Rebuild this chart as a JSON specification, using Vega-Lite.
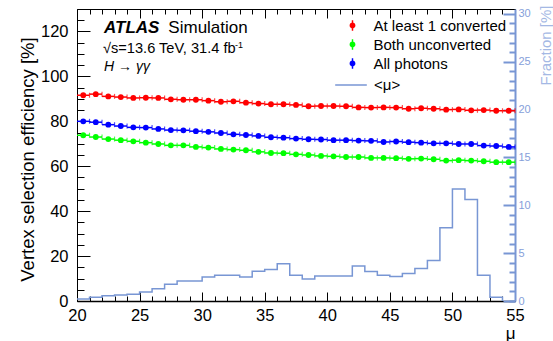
{
  "$schema": "https://vega.github.io/schema/vega-lite/v6.json",
  "width": 438,
  "height": 292,
  "autosize": {"type": "none"},
  "padding": {"left": 77, "top": 9, "right": 38, "bottom": 40},
  "background": "white",
  "config": {
    "font": "Liberation Sans",
    "view": {"stroke": "black", "strokeWidth": 1},
    "axis": {"labelFont": "Liberation Sans", "labelFontSize": 16.5, "labelColor": "black", "tickColor": "black", "domainColor": "black", "grid": false, "titleFont": "Liberation Sans", "titleFontWeight": "normal", "titleColor": "black", "labelFlush": false, "labelOverlap": false, "tickWidth": 1},
    "legend": {"labelFont": "Liberation Sans", "labelFontSize": 15, "labelColor": "black"}
  },
  "datasets": {
    "eff": [
      {"lo":20,"hi":21,"mu":20.5,"sel":"At least 1 converted","eff":91.6},
      {"lo":21,"hi":22,"mu":21.5,"sel":"At least 1 converted","eff":92.1},
      {"lo":22,"hi":23,"mu":22.5,"sel":"At least 1 converted","eff":91.1},
      {"lo":23,"hi":24,"mu":23.5,"sel":"At least 1 converted","eff":90.8},
      {"lo":24,"hi":25,"mu":24.5,"sel":"At least 1 converted","eff":90.4},
      {"lo":25,"hi":26,"mu":25.5,"sel":"At least 1 converted","eff":90.5},
      {"lo":26,"hi":27,"mu":26.5,"sel":"At least 1 converted","eff":90.4},
      {"lo":27,"hi":28,"mu":27.5,"sel":"At least 1 converted","eff":89.8},
      {"lo":28,"hi":29,"mu":28.5,"sel":"At least 1 converted","eff":89.6},
      {"lo":29,"hi":30,"mu":29.5,"sel":"At least 1 converted","eff":89.6},
      {"lo":30,"hi":31,"mu":30.5,"sel":"At least 1 converted","eff":89.2},
      {"lo":31,"hi":32,"mu":31.5,"sel":"At least 1 converted","eff":88.7},
      {"lo":32,"hi":33,"mu":32.5,"sel":"At least 1 converted","eff":88.9},
      {"lo":33,"hi":34,"mu":33.5,"sel":"At least 1 converted","eff":88.3},
      {"lo":34,"hi":35,"mu":34.5,"sel":"At least 1 converted","eff":87.9},
      {"lo":35,"hi":36,"mu":35.5,"sel":"At least 1 converted","eff":87.6},
      {"lo":36,"hi":37,"mu":36.5,"sel":"At least 1 converted","eff":87.6},
      {"lo":37,"hi":38,"mu":37.5,"sel":"At least 1 converted","eff":87.3},
      {"lo":38,"hi":39,"mu":38.5,"sel":"At least 1 converted","eff":86.7},
      {"lo":39,"hi":40,"mu":39.5,"sel":"At least 1 converted","eff":86.8},
      {"lo":40,"hi":41,"mu":40.5,"sel":"At least 1 converted","eff":86.8},
      {"lo":41,"hi":42,"mu":41.5,"sel":"At least 1 converted","eff":86.7},
      {"lo":42,"hi":43,"mu":42.5,"sel":"At least 1 converted","eff":86.2},
      {"lo":43,"hi":44,"mu":43.5,"sel":"At least 1 converted","eff":86.1},
      {"lo":44,"hi":45,"mu":44.5,"sel":"At least 1 converted","eff":86.2},
      {"lo":45,"hi":46,"mu":45.5,"sel":"At least 1 converted","eff":86.1},
      {"lo":46,"hi":47,"mu":46.5,"sel":"At least 1 converted","eff":85.6},
      {"lo":47,"hi":48,"mu":47.5,"sel":"At least 1 converted","eff":85.8},
      {"lo":48,"hi":49,"mu":48.5,"sel":"At least 1 converted","eff":85.6},
      {"lo":49,"hi":50,"mu":49.5,"sel":"At least 1 converted","eff":85.2},
      {"lo":50,"hi":51,"mu":50.5,"sel":"At least 1 converted","eff":85.3},
      {"lo":51,"hi":52,"mu":51.5,"sel":"At least 1 converted","eff":84.9},
      {"lo":52,"hi":53,"mu":52.5,"sel":"At least 1 converted","eff":85.0},
      {"lo":53,"hi":54,"mu":53.5,"sel":"At least 1 converted","eff":84.7},
      {"lo":54,"hi":55,"mu":54.5,"sel":"At least 1 converted","eff":84.7},
      {"lo":20,"hi":21,"mu":20.5,"sel":"Both unconverted","eff":73.8},
      {"lo":21,"hi":22,"mu":21.5,"sel":"Both unconverted","eff":73.0},
      {"lo":22,"hi":23,"mu":22.5,"sel":"Both unconverted","eff":72.1},
      {"lo":23,"hi":24,"mu":23.5,"sel":"Both unconverted","eff":71.6},
      {"lo":24,"hi":25,"mu":24.5,"sel":"Both unconverted","eff":71.1},
      {"lo":25,"hi":26,"mu":25.5,"sel":"Both unconverted","eff":70.5},
      {"lo":26,"hi":27,"mu":26.5,"sel":"Both unconverted","eff":69.9},
      {"lo":27,"hi":28,"mu":27.5,"sel":"Both unconverted","eff":69.3},
      {"lo":28,"hi":29,"mu":28.5,"sel":"Both unconverted","eff":69.3},
      {"lo":29,"hi":30,"mu":29.5,"sel":"Both unconverted","eff":68.6},
      {"lo":30,"hi":31,"mu":30.5,"sel":"Both unconverted","eff":68.3},
      {"lo":31,"hi":32,"mu":31.5,"sel":"Both unconverted","eff":67.7},
      {"lo":32,"hi":33,"mu":32.5,"sel":"Both unconverted","eff":67.4},
      {"lo":33,"hi":34,"mu":33.5,"sel":"Both unconverted","eff":67.1},
      {"lo":34,"hi":35,"mu":34.5,"sel":"Both unconverted","eff":66.4},
      {"lo":35,"hi":36,"mu":35.5,"sel":"Both unconverted","eff":65.9},
      {"lo":36,"hi":37,"mu":36.5,"sel":"Both unconverted","eff":65.8},
      {"lo":37,"hi":38,"mu":37.5,"sel":"Both unconverted","eff":65.3},
      {"lo":38,"hi":39,"mu":38.5,"sel":"Both unconverted","eff":65.0},
      {"lo":39,"hi":40,"mu":39.5,"sel":"Both unconverted","eff":64.6},
      {"lo":40,"hi":41,"mu":40.5,"sel":"Both unconverted","eff":64.4},
      {"lo":41,"hi":42,"mu":41.5,"sel":"Both unconverted","eff":64.1},
      {"lo":42,"hi":43,"mu":42.5,"sel":"Both unconverted","eff":64.1},
      {"lo":43,"hi":44,"mu":43.5,"sel":"Both unconverted","eff":63.7},
      {"lo":44,"hi":45,"mu":44.5,"sel":"Both unconverted","eff":63.7},
      {"lo":45,"hi":46,"mu":45.5,"sel":"Both unconverted","eff":63.6},
      {"lo":46,"hi":47,"mu":46.5,"sel":"Both unconverted","eff":63.3},
      {"lo":47,"hi":48,"mu":47.5,"sel":"Both unconverted","eff":63.4},
      {"lo":48,"hi":49,"mu":48.5,"sel":"Both unconverted","eff":63.1},
      {"lo":49,"hi":50,"mu":49.5,"sel":"Both unconverted","eff":62.5},
      {"lo":50,"hi":51,"mu":50.5,"sel":"Both unconverted","eff":62.7},
      {"lo":51,"hi":52,"mu":51.5,"sel":"Both unconverted","eff":62.5},
      {"lo":52,"hi":53,"mu":52.5,"sel":"Both unconverted","eff":62.2},
      {"lo":53,"hi":54,"mu":53.5,"sel":"Both unconverted","eff":61.8},
      {"lo":54,"hi":55,"mu":54.5,"sel":"Both unconverted","eff":61.8},
      {"lo":20,"hi":21,"mu":20.5,"sel":"All photons","eff":80.0},
      {"lo":21,"hi":22,"mu":21.5,"sel":"All photons","eff":79.6},
      {"lo":22,"hi":23,"mu":22.5,"sel":"All photons","eff":78.5},
      {"lo":23,"hi":24,"mu":23.5,"sel":"All photons","eff":77.9},
      {"lo":24,"hi":25,"mu":24.5,"sel":"All photons","eff":77.3},
      {"lo":25,"hi":26,"mu":25.5,"sel":"All photons","eff":77.2},
      {"lo":26,"hi":27,"mu":26.5,"sel":"All photons","eff":76.6},
      {"lo":27,"hi":28,"mu":27.5,"sel":"All photons","eff":76.1},
      {"lo":28,"hi":29,"mu":28.5,"sel":"All photons","eff":76.0},
      {"lo":29,"hi":30,"mu":29.5,"sel":"All photons","eff":75.6},
      {"lo":30,"hi":31,"mu":30.5,"sel":"All photons","eff":75.3},
      {"lo":31,"hi":32,"mu":31.5,"sel":"All photons","eff":74.8},
      {"lo":32,"hi":33,"mu":32.5,"sel":"All photons","eff":74.2},
      {"lo":33,"hi":34,"mu":33.5,"sel":"All photons","eff":73.9},
      {"lo":34,"hi":35,"mu":34.5,"sel":"All photons","eff":73.5},
      {"lo":35,"hi":36,"mu":35.5,"sel":"All photons","eff":72.9},
      {"lo":36,"hi":37,"mu":36.5,"sel":"All photons","eff":72.7},
      {"lo":37,"hi":38,"mu":37.5,"sel":"All photons","eff":72.3},
      {"lo":38,"hi":39,"mu":38.5,"sel":"All photons","eff":72.0},
      {"lo":39,"hi":40,"mu":39.5,"sel":"All photons","eff":71.9},
      {"lo":40,"hi":41,"mu":40.5,"sel":"All photons","eff":71.6},
      {"lo":41,"hi":42,"mu":41.5,"sel":"All photons","eff":71.6},
      {"lo":42,"hi":43,"mu":42.5,"sel":"All photons","eff":71.4},
      {"lo":43,"hi":44,"mu":43.5,"sel":"All photons","eff":71.3},
      {"lo":44,"hi":45,"mu":44.5,"sel":"All photons","eff":70.8},
      {"lo":45,"hi":46,"mu":45.5,"sel":"All photons","eff":71.0},
      {"lo":46,"hi":47,"mu":46.5,"sel":"All photons","eff":70.7},
      {"lo":47,"hi":48,"mu":47.5,"sel":"All photons","eff":70.5},
      {"lo":48,"hi":49,"mu":48.5,"sel":"All photons","eff":70.2},
      {"lo":49,"hi":50,"mu":49.5,"sel":"All photons","eff":70.2},
      {"lo":50,"hi":51,"mu":50.5,"sel":"All photons","eff":69.9},
      {"lo":51,"hi":52,"mu":51.5,"sel":"All photons","eff":69.9},
      {"lo":52,"hi":53,"mu":52.5,"sel":"All photons","eff":69.2},
      {"lo":53,"hi":54,"mu":53.5,"sel":"All photons","eff":69.0},
      {"lo":54,"hi":55,"mu":54.5,"sel":"All photons","eff":68.6}
    ],
    "hist": [
      {"lo":20,"frac":0.21},{"lo":21,"frac":0.38},{"lo":22,"frac":0.56},{"lo":23,"frac":0.63},{"lo":24,"frac":0.7},
      {"lo":25,"frac":0.94},{"lo":26,"frac":1.29},{"lo":27,"frac":1.75},{"lo":28,"frac":2.1},{"lo":29,"frac":2.1},
      {"lo":30,"frac":2.5},{"lo":31,"frac":2.7},{"lo":32,"frac":2.7},{"lo":33,"frac":2.5},{"lo":34,"frac":3.1},
      {"lo":35,"frac":3.3},{"lo":36,"frac":3.9},{"lo":37,"frac":2.7},{"lo":38,"frac":2.3},{"lo":39,"frac":2.6},
      {"lo":40,"frac":2.6},{"lo":41,"frac":2.6},{"lo":42,"frac":3.65},{"lo":43,"frac":3.07},{"lo":44,"frac":2.7},
      {"lo":45,"frac":2.55},{"lo":46,"frac":2.86},{"lo":47,"frac":3.4},{"lo":48,"frac":4.24},{"lo":49,"frac":7.66},
      {"lo":50,"frac":11.7},{"lo":51,"frac":10.6},{"lo":52,"frac":2.7},{"lo":53,"frac":0.38},{"lo":54,"frac":0}
    ],
    "one": [{}]
  },
  "layer": [
    {
      "data": {"name": "hist"},
      "layer": [
        {
          "mark": {"type": "line", "interpolate": "step-after", "strokeWidth": 1.5},
          "encoding": {
            "x": {"field": "lo", "type": "quantitative", "scale": {"domain": [20, 55], "nice": false, "zero": false}, "axis": null},
            "y": {"field": "frac", "type": "quantitative", "scale": {"domain": [0, 30.5], "nice": false},
              "axis": {"orient": "right", "values": [0,5,10,15,20,25,30], "tickSize": -12, "labelPadding": 15, "labelFontSize": 11, "labelColor": "#86a0da", "tickColor": "#7896d4", "domainColor": "#7896d4", "domainWidth": 2, "tickWidth": 2,
                "title": "Fraction [%]", "titleColor": "#a4b8e4", "titleFontSize": 15, "titleAngle": -90, "titleAlign": "right", "titleBaseline": "alphabetic", "titleX": 35.5, "titleY": -4}},
            "stroke": {"datum": "<μ>", "type": "nominal", "scale": {"domain": ["<μ>"], "range": ["#7896d4"]},
              "legend": {"title": null, "orient": "none", "legendX": 257, "legendY": 59, "symbolType": "stroke", "symbolSize": 1000, "symbolStrokeWidth": 1.5, "labelOffset": 6, "padding": 0}}
          }
        },
        {
          "mark": {"type": "rule", "opacity": 0},
          "encoding": {
            "x": {"field": "lo", "type": "quantitative", "axis": null},
            "y": {"field": "frac", "type": "quantitative",
              "axis": {"orient": "right", "values": [0,1,2,3,4,6,7,8,9,11,12,13,14,16,17,18,19,21,22,23,24,26,27,28,29], "tickSize": -6, "labels": false, "domain": false, "tickColor": "#7896d4", "tickWidth": 2, "title": null}}
          }
        }
      ],
      "resolve": {"axis": {"y": "independent"}}
    },
    {
      "layer": [
        {
          "data": {"name": "eff"},
          "mark": {"type": "point", "filled": true, "opacity": 1, "size": 34, "strokeWidth": 0},
          "encoding": {
            "x": {"field": "mu", "type": "quantitative", "scale": {"domain": [20, 55], "nice": false, "zero": false},
              "axis": {"orient": "bottom", "values": [20,25,30,35,40,45,50,55], "tickSize": -9, "labelPadding": 15.5, "format": "d", "domainWidth": 1.5,
                "title": "μ", "titleFontSize": 17, "titleAlign": "right", "titleBaseline": "alphabetic", "titleX": 438, "titleY": 37}},
            "y": {"field": "eff", "type": "quantitative", "scale": {"domain": [0, 130], "nice": false},
              "axis": {"values": [0,20,40,60,80,100,120], "tickSize": -13, "labelPadding": 22,
                "title": "Vertex selection efficiency [%]", "titleFontSize": 18.5, "titleAngle": -90, "titleAlign": "center", "titleBaseline": "alphabetic", "titleX": -43.5, "titleY": 150}},
            "color": {"field": "sel", "type": "nominal", "scale": {"domain": ["At least 1 converted", "Both unconverted", "All photons"], "range": ["#ff0000", "#00ff00", "#0000ff"]},
              "legend": {"title": null, "orient": "none", "legendX": 268, "legendY": 9, "symbolType": "M-1,0A1,1,0,1,1,1,0A1,1,0,1,1,-1,0Z M-0.25,-1.8L0.25,-1.8L0.25,1.8L-0.25,1.8Z", "symbolSize": 34, "symbolStrokeWidth": 0, "labelOffset": 13.5, "rowPadding": 3, "padding": 0}}
          }
        },
        {
          "data": {"name": "eff"},
          "mark": {"type": "rule", "strokeWidth": 1.5},
          "encoding": {
            "x": {"field": "lo", "type": "quantitative",
              "axis": {"orient": "bottom", "values": [21,22,23,24,26,27,28,29,31,32,33,34,36,37,38,39,41,42,43,44,46,47,48,49,51,52,53,54], "tickSize": -5, "labels": false, "domain": false, "title": null}},
            "x2": {"field": "hi"},
            "y": {"field": "eff", "type": "quantitative",
              "axis": {"values": [5,10,15,25,30,35,45,50,55,65,70,75,85,90,95,105,110,115,125], "tickSize": -7, "labels": false, "domain": false, "title": null}},
            "color": {"field": "sel", "type": "nominal", "legend": null}
          }
        },
        {
          "data": {"name": "eff"},
          "mark": {"type": "tick", "orient": "vertical", "size": 5, "thickness": 1.2},
          "encoding": {
            "x": {"field": "hi", "type": "quantitative",
              "axis": {"orient": "top", "values": [20,25,30,35,40,45,50,55], "tickSize": -9, "labels": false, "domain": false, "title": null}},
            "y": {"field": "eff", "type": "quantitative", "axis": null},
            "color": {"field": "sel", "type": "nominal", "legend": null}
          }
        },
        {
          "data": {"name": "one"},
          "mark": {"type": "text", "font": "Liberation Sans", "fontSize": 17, "fontWeight": "bold", "fontStyle": "italic", "align": "left", "baseline": "alphabetic"},
          "encoding": {
            "x": {"datum": 22.16, "type": "quantitative",
              "axis": {"orient": "top", "values": [21,22,23,24,26,27,28,29,31,32,33,34,36,37,38,39,41,42,43,44,46,47,48,49,51,52,53,54], "tickSize": -5, "labels": false, "domain": false, "title": null}},
            "y": {"datum": 119.1, "type": "quantitative", "axis": null},
            "text": {"value": "ATLAS"}
          }
        },
        {
          "data": {"name": "one"},
          "mark": {"type": "text", "font": "Liberation Sans", "fontSize": 17, "align": "left", "baseline": "alphabetic"},
          "encoding": {
            "x": {"datum": 27.3, "type": "quantitative", "axis": null},
            "y": {"datum": 119.1, "type": "quantitative", "axis": null},
            "text": {"value": "Simulation"}
          }
        },
        {
          "data": {"name": "one"},
          "mark": {"type": "text", "font": "Liberation Sans", "fontSize": 14.6, "align": "left", "baseline": "alphabetic"},
          "encoding": {
            "x": {"datum": 22.08, "type": "quantitative", "axis": null},
            "y": {"datum": 110.4, "type": "quantitative", "axis": null},
            "text": {"value": "√s=13.6 TeV, 31.4 fb"}
          }
        },
        {
          "data": {"name": "one"},
          "mark": {"type": "text", "font": "Liberation Sans", "fontSize": 9, "align": "left", "baseline": "alphabetic"},
          "encoding": {
            "x": {"datum": 32.62, "type": "quantitative", "axis": null},
            "y": {"datum": 112.8, "type": "quantitative", "axis": null},
            "text": {"value": "-1"}
          }
        },
        {
          "data": {"name": "one"},
          "mark": {"type": "text", "font": "Liberation Sans", "fontSize": 14, "fontStyle": "italic", "align": "left", "baseline": "alphabetic"},
          "encoding": {
            "x": {"datum": 22.16, "type": "quantitative", "axis": null},
            "y": {"datum": 102.6, "type": "quantitative", "axis": null},
            "text": {"value": "H → γγ"}
          }
        }
      ],
      "resolve": {"axis": {"x": "independent", "y": "independent"}}
    }
  ],
  "resolve": {"scale": {"y": "independent"}, "axis": {"x": "independent", "y": "independent"}}
}
